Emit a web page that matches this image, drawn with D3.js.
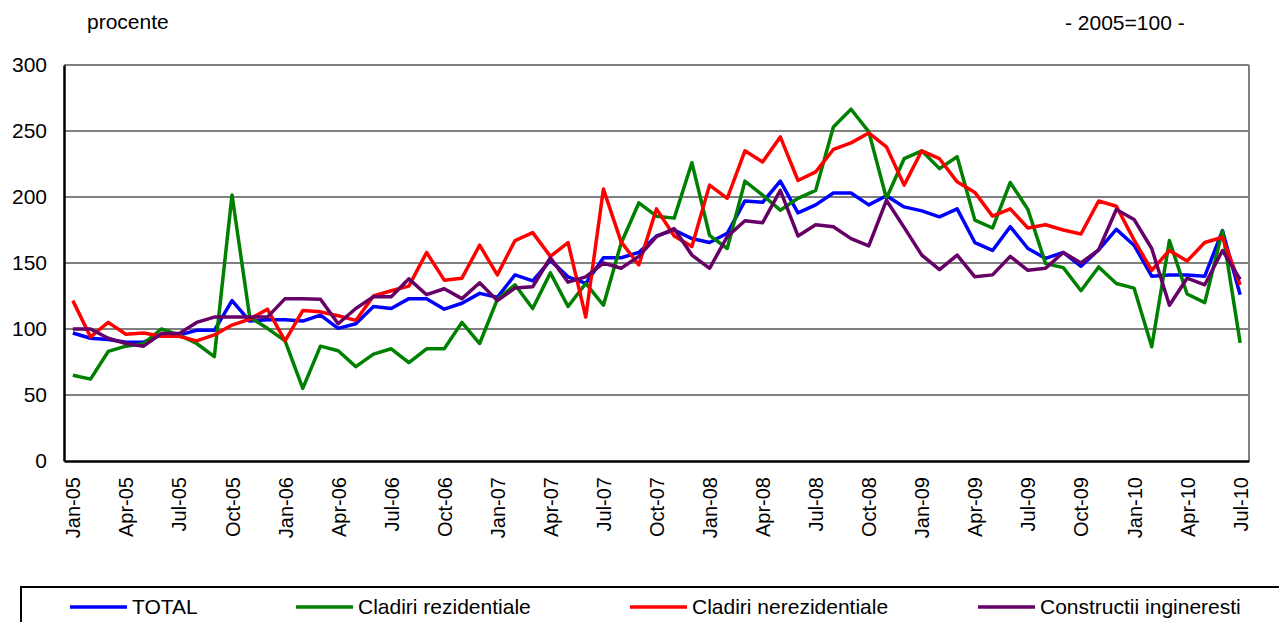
<!DOCTYPE html>
<html>
<head>
<meta charset="utf-8">
<script src="https://cdn.jsdelivr.net/npm/d3@7"></script>
<style>
  html, body { margin: 0; padding: 0; background: #fff; }
  svg { display: block; font-family: "Liberation Sans", Arial, sans-serif; }
</style>
</head>
<body>
<svg id="chart" width="1279" height="622"></svg>
<script>
const monthNames = ["Jan", "Feb", "Mar", "Apr", "May", "Jun", "Jul", "Aug", "Sep", "Oct", "Nov", "Dec"];
const years = ["05", "06", "07", "08", "09", "10"];
const categories = [];
years.forEach((yy) => monthNames.forEach((m) => categories.push(`${m}-${yy}`)));
categories.splice(67); // Jan-05 .. Jul-10

const yTicks = [0, 50, 100, 150, 200, 250, 300];

const total = [
  97, 93, 92, 90, 90, 95.5, 95.5, 99, 99, 121.5, 106, 107,
  107, 106, 110.5, 100.5, 104, 117, 115.5, 123, 123, 115, 119.5, 127,
  124, 141, 136.5, 152, 139.5, 134.5, 154, 154, 158, 170.5, 175, 168.5,
  165.5, 172.5, 197, 196, 212, 188, 194, 203, 203, 194, 201, 192.5,
  189.5, 185, 191, 165.5, 159.5, 177.5, 161, 153.5, 158, 147.5, 160, 175.5,
  163.5, 140, 141, 141, 140, 174.5, 126
];
const rezidentiale = [
  65, 62, 83, 87, 89, 100, 95.5, 89, 79, 201.5, 109, 100.5,
  91, 55, 87, 83.5, 71.5, 81, 85, 74.5, 85, 85, 105, 89,
  122.5, 133.5, 115.5, 142.5, 117, 134.5, 118, 165, 195.5, 185.5, 184, 226,
  171, 161, 212, 201.5, 190, 199, 205, 253, 266.5, 249.5, 199, 229,
  235, 221.5, 230.5, 182.5, 176.5, 211, 190.5, 149.5, 146.5, 129, 147, 134.5,
  131, 86.5, 167, 126.5, 120, 174.5, 89.5
];
const nerezidentiale = [
  121.5, 94, 105, 96, 97, 94.5, 94.5, 91, 95.5, 103, 107.5, 115,
  91, 114, 113, 110, 106.5, 125, 129, 132.5, 158, 137, 138.5, 163.5,
  141, 167, 173, 155, 165.5, 109, 206, 166, 148.5, 191, 170.5, 162.5,
  209, 199, 235, 226.5, 245.5, 212.5, 219, 236, 241, 248.5, 238, 209,
  235, 229, 211.5, 203.5, 185.5, 191, 176.5, 179, 175, 172, 197, 193,
  167.5, 144.5, 159.5, 151.5, 165.5, 169.5, 133.5
];
const inginerești = [
  100, 100, 93, 89, 87, 96.5, 96.5, 105, 109, 109, 109, 109,
  123, 123, 122.5, 104, 115.5, 124.5, 124.5, 138, 126, 130.5, 123, 135,
  121.5, 131, 132, 154, 135.5, 139.5, 150, 146, 155, 170, 176, 156,
  146, 170, 182, 180.5, 205, 170.5, 179, 177.5, 168.5, 163, 197.5, 177,
  156, 145, 156, 139.5, 141, 155, 144.5, 146, 158, 150, 160, 190.5,
  183, 161, 118, 138.5, 133.5, 159.5, 137.5
];

const seriesNames = ["TOTAL", "Cladiri rezidentiale", "Cladiri nerezidentiale", "Constructii ingineresti"];
const seriesColors = ["#0000ff", "#008000", "#ff0000", "#660066"];
const seriesValues = [total, rezidentiale, nerezidentiale, inginerești];

const svg = d3.select("#chart");

const margin = { top: 65, right: 30, bottom: 161, left: 64 },
  width = 1279 - margin.left - margin.right,
  height = 622 - margin.top - margin.bottom;

const x = d3.scalePoint().domain(categories).range([0, width]).padding(0.5);
const y = d3.scaleLinear().domain([0, 300]).range([height, 0]);

const g = svg.append("g").attr("transform", `translate(${margin.left},${margin.top})`);

// gridlines
g.append("g")
  .selectAll("line")
  .data(yTicks.filter((t) => t > 0))
  .join("line")
  .attr("x1", 0)
  .attr("x2", width)
  .attr("y1", (d) => y(d))
  .attr("y2", (d) => y(d))
  .attr("stroke", "#808080")
  .attr("stroke-width", 2);

// right border
g.append("line")
  .attr("x1", width).attr("x2", width)
  .attr("y1", 0).attr("y2", height)
  .attr("stroke", "#808080")
  .attr("stroke-width", 2);

// y axis
const yAxis = g.append("g")
  .call(d3.axisLeft(y).tickValues(yTicks).tickSize(0).tickPadding(17));
yAxis.select(".domain").attr("stroke", "#000").attr("stroke-width", 2.5);
yAxis.selectAll("text")
  .attr("fill", "#000")
  .style("font-size", "21px")
  .style("font-family", "Liberation Sans, Arial, sans-serif");

// x axis
const xAxis = g.append("g")
  .attr("transform", `translate(0,${height})`)
  .call(d3.axisBottom(x)
    .tickValues(categories.filter((c, i) => i % 3 === 0))
    .tickSize(0)
    .tickSizeOuter(0));
xAxis.select(".domain").attr("stroke", "#000").attr("stroke-width", 2.5);
xAxis.selectAll("text")
  .attr("fill", "#000")
  .attr("transform", "rotate(-90)")
  .attr("x", -16)
  .attr("y", 0)
  .attr("dy", "0.35em")
  .style("text-anchor", "end")
  .style("font-size", "20px")
  .style("font-family", "Liberation Sans, Arial, sans-serif");

const line = d3.line()
  .x((d, i) => x(categories[i]))
  .y((d) => y(d));

seriesValues.forEach((values, k) => {
  g.append("path")
    .datum(values)
    .attr("fill", "none")
    .attr("stroke", seriesColors[k])
    .attr("stroke-width", 3.5)
    .attr("stroke-linejoin", "round")
    .attr("d", line);
});

// header texts
svg.append("text")
  .attr("x", 87)
  .attr("y", 29)
  .text("procente")
  .style("font-size", "21px");

svg.append("text")
  .attr("x", 1065)
  .attr("y", 30)
  .text("- 2005=100 -")
  .style("font-size", "21px");

// legend
svg.append("rect")
  .attr("x", 21)
  .attr("y", 587)
  .attr("width", 1290)
  .attr("height", 60)
  .attr("fill", "none")
  .attr("stroke", "#000")
  .attr("stroke-width", 2);

const legendX = [70, 296, 630, 978];
seriesNames.forEach((name, k) => {
  svg.append("line")
    .attr("x1", legendX[k])
    .attr("x2", legendX[k] + 57)
    .attr("y1", 607)
    .attr("y2", 607)
    .attr("stroke", seriesColors[k])
    .attr("stroke-width", 3.5);

  svg.append("text")
    .attr("x", legendX[k] + 62)
    .attr("y", 614)
    .text(name)
    .style("font-size", "21px")
    .style("fill", "#000");
});
</script>
</body>
</html>
